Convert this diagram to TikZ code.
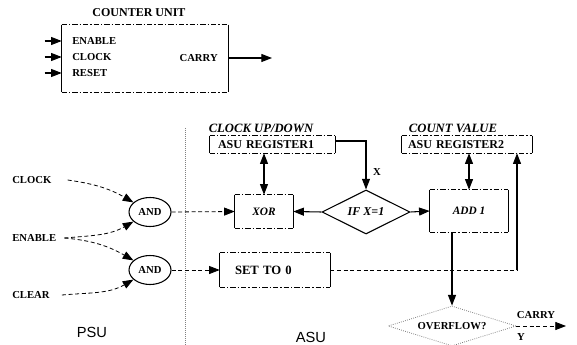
\documentclass[tikz,border=0pt]{standalone}
\usepackage{fontspec}
\setmainfont{Liberation Serif}
\newfontfamily\sansf{Liberation Sans}
\usetikzlibrary{arrows.meta,shapes.geometric,calc}
\newcommand\brbox[1]{%
  \draw[side] (#1.north west) -- (#1.south west);
  \draw[side] (#1.north east) -- (#1.south east);
  \draw[edgeline] (#1.north west) -- (#1.north east);
  \draw[edgeline] (#1.south west) -- (#1.south east);}
\begin{document}
\begin{tikzpicture}[x=0.75pt,y=-0.75pt,
  lbl/.style={font=\fontsize{8}{9}\selectfont\bfseries, inner sep=0},
  tlbl/.style={font=\fontsize{9}{10}\selectfont\bfseries, inner sep=0},
  ilbl/.style={font=\fontsize{9.5}{11}\selectfont\bfseries\itshape, inner sep=0},
  unitlbl/.style={font=\fontsize{11}{12}\selectfont\sansf, inner sep=0},
  arr/.style={-{Triangle[length=8pt,width=6pt]}},
  darr/.style={{Triangle[length=8pt,width=6pt]}-{Triangle[length=8pt,width=6pt]}},
  sl/.style={line width=0.8pt},
  dl/.style={line width=0.6pt, dash pattern=on 3pt off 2pt},
  side/.style={line width=1pt},
  edgeline/.style={line width=0.5pt, dash pattern=on 4pt off 1.5pt on 1pt off 1.5pt},
  boxn/.style={inner sep=0, draw=none}
]
\useasboundingbox (0,0) rectangle (577,345);

% ---------- Counter unit ----------
\node[tlbl] (title) at (139,13) {COUNTER UNIT};
\node[boxn, minimum width=124.5pt, minimum height=50.25pt] (cu) at (145,58.5) {};
\brbox{cu}
\node[lbl, anchor=west] (en) at (72,41) {ENABLE};
\node[lbl, anchor=west] (ck) at (72,57) {CLOCK};
\node[lbl, anchor=west] (rs) at (72,73) {RESET};
\draw[sl,arr] (cu.west |- en) ++(-17,0) -- (cu.west |- en);
\draw[sl,arr] (cu.west |- ck) ++(-17,0) -- (cu.west |- ck);
\draw[sl,arr] (cu.west |- rs) ++(-17,0) -- (cu.west |- rs);
\node[lbl, anchor=east] (cc) at (218,58) {CARRY};
\coordinate (cce) at (272,58);
\draw[sl,arr] (cu.east |- cc) -- (cce);

% ---------- divider ----------
\coordinate (dv1) at (185,128);
\coordinate (dv2) at (185,345);
\draw[line width=0.5pt, densely dotted, gray] (dv1) -- (dv2);

% ---------- left side ----------
\node[lbl, anchor=west] (lclk) at (12,180) {CLOCK};
\node[lbl, anchor=west] (lena) at (12,238) {ENABLE};
\node[lbl, anchor=west] (lclr) at (12,295) {CLEAR};
\node[ellipse, draw, line width=0.8pt, minimum width=31.5pt, minimum height=21.75pt, inner sep=0, font=\fontsize{8}{9}\selectfont\bfseries] (and1) at (150,212) {AND};
\node[ellipse, draw, line width=0.8pt, minimum width=31.5pt, minimum height=21.75pt, inner sep=0, font=\fontsize{8}{9}\selectfont\bfseries] (and2) at (150,270) {AND};
\draw[dl,arr] ([xshift=12pt]lclk.east) to[out=-8,in=150] (and1.150);
\draw[dl,arr] ([xshift=6pt]lena.east) to[out=5,in=210] (and1.210);
\draw[dl,arr] ([xshift=6pt]lena.east) to[out=-5,in=150] (and2.150);
\draw[dl,arr] ([xshift=9pt]lclr.east) to[out=5,in=210] (and2.210);

% ---------- ASU ----------
\node[ilbl] (cud) at (261,128) {CLOCK UP/DOWN};
\node[boxn, minimum width=93.75pt, minimum height=12.75pt, inner xsep=6pt, text width=81.75pt, align=left, font=\fontsize{9}{10}\selectfont\bfseries] (reg1) at (272.5,144.5) {ASU REGISTER1};
\brbox{reg1}
\node[ilbl] (cv) at (453,128) {COUNT VALUE};
\node[boxn, minimum width=97.5pt, minimum height=12.75pt, inner xsep=4.5pt, text width=88.5pt, align=left, font=\fontsize{9}{10}\selectfont\bfseries] (reg2) at (467,144.5) {ASU REGISTER2};
\brbox{reg2}

\node[boxn, minimum width=43.5pt, minimum height=24.75pt, font=\fontsize{8.5}{10}\selectfont\bfseries\itshape] (xor) at (264,211.5) {XOR};
\brbox{xor}
\node[diamond, draw, line width=0.8pt, aspect=2, inner sep=0, minimum width=66pt, minimum height=33pt, font=\fontsize{9}{10}\selectfont\bfseries\itshape] (ifx) at (366,212) {IF X=1};
\node[boxn, minimum width=58.5pt, minimum height=31.5pt, font=\fontsize{8.5}{10}\selectfont\bfseries\itshape] (add) at (469,211) {ADD 1};
\brbox{add}
\node[boxn, minimum width=82.5pt, minimum height=25.5pt, inner xsep=11.25pt, text width=60pt, align=left, font=\fontsize{9.5}{10}\selectfont\bfseries] (set) at (275,270) {SET TO 0};
\brbox{set}

\draw[sl,darr] (xor.north) -- (xor.north |- reg1.south);
\draw[sl,darr] (add.north) -- (add.north |- reg2.south);
\draw[sl,arr] ([yshift=2.6pt]reg1.east) -| (ifx.north);
\node[lbl] (xl) at (377,172) {X};
\draw[sl,arr] (ifx.west) -- (xor.east);
\draw[sl,arr] (ifx.east) -- (add.west);
\draw[dl,arr] (and1.east) -- (xor.west);
\draw[dl,arr] (and2.east) -- (set.west);

\coordinate (ub) at (517,270);
\draw[dl] (set.east) -- (ub);
\draw[sl,arr] (ub) -- (ub |- reg2.south);

\node[diamond, draw=gray, densely dotted, line width=0.6pt, aspect=3, inner sep=0, minimum width=96pt, minimum height=30pt, font=\fontsize{8}{9}\selectfont\bfseries] (ovf) at (452,326) {OVERFLOW?};
\draw[sl,arr] (add.south -| ovf.north) -- (ovf.north);
\coordinate (ce) at (566,326);
\draw[dl,arr] (ovf.east) -- (ce);
\node[lbl] (cry) at (536,315) {CARRY};
\node[lbl] (yl) at (521,337) {Y};

\node[unitlbl] (asu) at (311,337) {ASU};
\node[unitlbl] (psu) at (92,332) {PSU};
\end{tikzpicture}
\end{document}
